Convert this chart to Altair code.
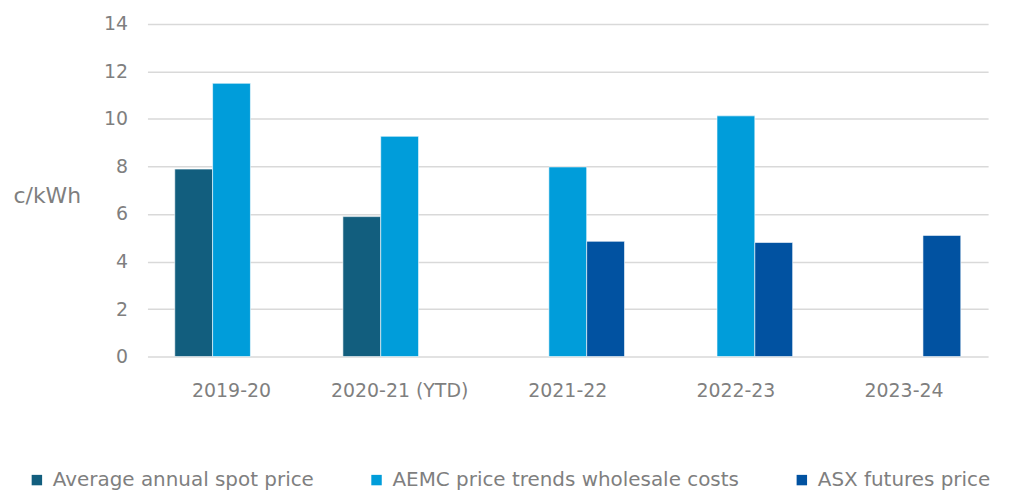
import altair as alt
import pandas as pd

years = ["2019-20", "2020-21 (YTD)", "2021-22", "2022-23", "2023-24"]
series = ["Average annual spot price", "AEMC price trends wholesale costs", "ASX futures price"]
colors = ["#125E7E", "#009DDA", "#0152A1"]

spot = [7.89, 5.89, None, None, None]
aemc = [11.5, 9.27, 7.98, 10.13, None]
asx = [None, None, 4.85, 4.8, 5.1]

rows = []
for name, vals in zip(series, [spot, aemc, asx]):
    for y, v in zip(years, vals):
        if v is not None:
            rows.append({"year": y, "series": name, "value": v})
df = pd.DataFrame(rows)

FONT = "DejaVu Sans"
GREY = "#7f7f7f"

chart = alt.Chart(df).mark_bar(stroke="#ffffff", strokeWidth=0.6).encode(
    x=alt.X("year:N", sort=years,
            scale=alt.Scale(paddingInner=0.325, paddingOuter=0.1625),
            axis=alt.Axis(title=None, labelAngle=0, ticks=False, domain=False,
                          labelPadding=25, labelFontSize=19, labelColor=GREY,
                          labelFont=FONT)),
    xOffset=alt.XOffset("series:N", sort=series,
                        scale=alt.Scale(domain=series, paddingInner=0, paddingOuter=0)),
    y=alt.Y("value:Q", scale=alt.Scale(domain=[0, 14]),
            axis=alt.Axis(values=[0, 2, 4, 6, 8, 10, 12, 14], title="c/kWh",
                          titleAngle=0, titleAlign="left", titleBaseline="middle",
                          titleX=-135, titleY=172, titleFontSize=22,
                          titleFontWeight="normal", titleColor=GREY, titleFont=FONT,
                          ticks=False, domain=False, labelPadding=20,
                          labelFontSize=19, labelColor=GREY, labelFont=FONT,
                          gridColor="#d9d9d9", gridWidth=1.5)),
    color=alt.Color("series:N", sort=series,
                    scale=alt.Scale(domain=series, range=colors),
                    legend=alt.Legend(title=None, orient="none", direction="horizontal",
                                      columns=3, legendX=-121, legendY=448,
                                      symbolType="square", symbolSize=110,
                                      symbolStrokeWidth=0, labelOffset=6,
                                      columnPadding=52, labelFontSize=20,
                                      labelColor=GREY, labelFont=FONT,
                                      labelLimit=600)),
).properties(
    width=844, height=334,
    autosize=alt.AutoSizeParams(type="none"),
    padding={"left": 140, "top": 15, "right": 25, "bottom": 136},
).configure_view(stroke=None)

chart.save("out.html", embed_options={"renderer": "svg", "actions": False})
